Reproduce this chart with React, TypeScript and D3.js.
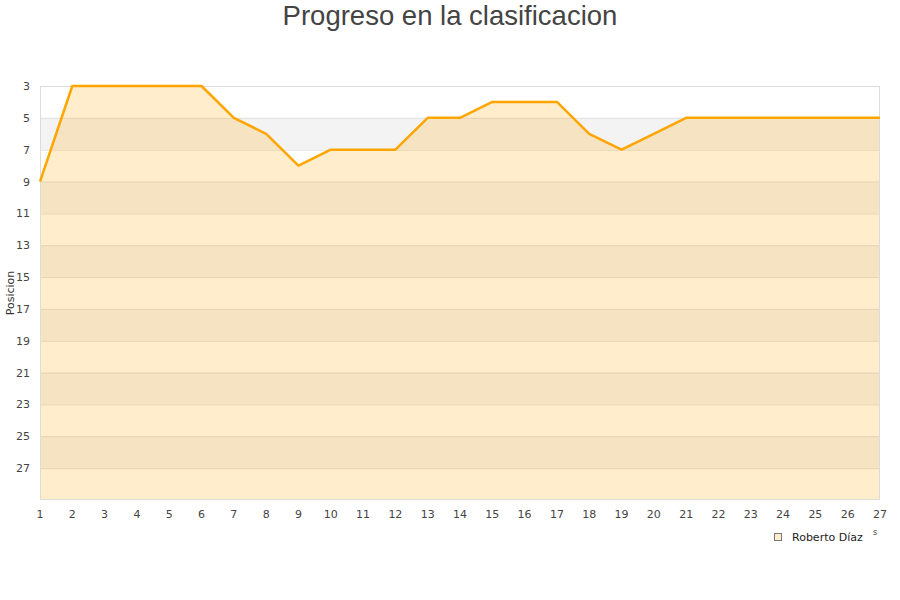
import { useEffect, useRef } from "react";
import * as d3 from "d3";

const jornadas = d3.range(1, 28);
const posiciones = [9, 3, 3, 3, 3, 3, 5, 6, 8, 7, 7, 7, 5, 5, 4, 4, 4, 6, 7, 6, 5, 5, 5, 5, 5, 5, 5];
const yTicks = [3, 5, 7, 9, 11, 13, 15, 17, 19, 21, 23, 25, 27];
const seriesName = "Roberto Díaz";

export default function App() {
  const svgRef = useRef<SVGSVGElement>(null);

  useEffect(() => {
    if (!svgRef.current) return;
    const svg = d3.select(svgRef.current);
    svg.selectAll("*").remove();

    const width = 900;
    const height = 600;
    const margin = { top: 86, right: 20, bottom: 100, left: 40 };
    const innerW = width - margin.left - margin.right;
    const innerH = height - margin.top - margin.bottom;

    const x = d3.scaleLinear().domain([1, 27]).range([0, innerW]);
    const y = d3.scaleLinear().domain([3, 29]).range([0, innerH]);

    const font = "DejaVu Sans, Verdana, sans-serif";

    svg
      .append("text")
      .attr("x", width / 2)
      .attr("y", 25)
      .attr("text-anchor", "middle")
      .attr("font-family", "Liberation Sans, Arial, sans-serif")
      .attr("font-size", 27.5)
      .attr("fill", "#444")
      .text("Progreso en la clasificacion");

    const g = svg
      .append("g")
      .attr("transform", `translate(${margin.left},${margin.top})`);

    // alternating bands
    g.selectAll("rect.band")
      .data(yTicks.filter((_, i) => i % 2 === 1))
      .join("rect")
      .attr("class", "band")
      .attr("x", 0)
      .attr("width", innerW)
      .attr("y", (d) => y(d))
      .attr("height", y(2) - y(0))
      .attr("fill", "#f3f3f3");

    // grid lines
    g.selectAll("line.grid")
      .data(yTicks)
      .join("line")
      .attr("class", "grid")
      .attr("x1", 0)
      .attr("x2", innerW)
      .attr("y1", (d) => y(d) + 0.5)
      .attr("y2", (d) => y(d) + 0.5)
      .attr("stroke", "#e0e0e0");

    const area = d3
      .area<number>()
      .x((_, i) => x(jornadas[i]))
      .y0(innerH)
      .y1((d) => y(d));

    g.append("path")
      .datum(posiciones)
      .attr("d", area)
      .attr("fill", "#ffa500")
      .attr("fill-opacity", 0.2);

    // plot border
    g.append("rect")
      .attr("x", 0.5)
      .attr("y", 0.5)
      .attr("width", innerW - 1)
      .attr("height", innerH - 1)
      .attr("fill", "none")
      .attr("stroke", "#dcdcdc");

    const line = d3
      .line<number>()
      .x((_, i) => x(jornadas[i]))
      .y((d) => y(d));

    g.append("path")
      .datum(posiciones)
      .attr("d", line)
      .attr("fill", "none")
      .attr("stroke", "#ffa500")
      .attr("stroke-width", 2.5)
      .attr("stroke-linejoin", "round");

    // y tick labels
    g.selectAll("text.ytick")
      .data(yTicks)
      .join("text")
      .attr("class", "ytick")
      .attr("x", -10)
      .attr("y", (d) => y(d) + 4)
      .attr("text-anchor", "end")
      .attr("font-family", font)
      .attr("font-size", 11)
      .attr("fill", "#444")
      .text((d) => d);

    // x tick labels
    g.selectAll("text.xtick")
      .data(jornadas)
      .join("text")
      .attr("class", "xtick")
      .attr("x", (d) => x(d))
      .attr("y", innerH + 18)
      .attr("text-anchor", "middle")
      .attr("font-family", font)
      .attr("font-size", 11)
      .attr("fill", "#444")
      .text((d) => d);

    svg
      .append("text")
      .attr("transform", `translate(14,${margin.top + innerH / 2}) rotate(-90)`)
      .attr("text-anchor", "middle")
      .attr("font-family", font)
      .attr("font-size", 11)
      .attr("fill", "#333")
      .text("Posicion");

    // legend
    svg
      .append("rect")
      .attr("x", 774.5)
      .attr("y", 533.5)
      .attr("width", 7)
      .attr("height", 7)
      .attr("fill", "#ffedcc")
      .attr("stroke", "#777");

    svg
      .append("text")
      .attr("x", 792)
      .attr("y", 541)
      .attr("font-family", font)
      .attr("font-size", 11)
      .attr("fill", "#222")
      .text(seriesName);

    svg
      .append("text")
      .attr("x", 873)
      .attr("y", 535)
      .attr("font-family", font)
      .attr("font-size", 8)
      .attr("fill", "#444")
      .text("s");
  }, []);

  return (
    <div style={{ position: "fixed", left: 0, top: 0 }}>
      <svg ref={svgRef} width={900} height={600} style={{ display: "block", background: "#fff" }} />
    </div>
  );
}
